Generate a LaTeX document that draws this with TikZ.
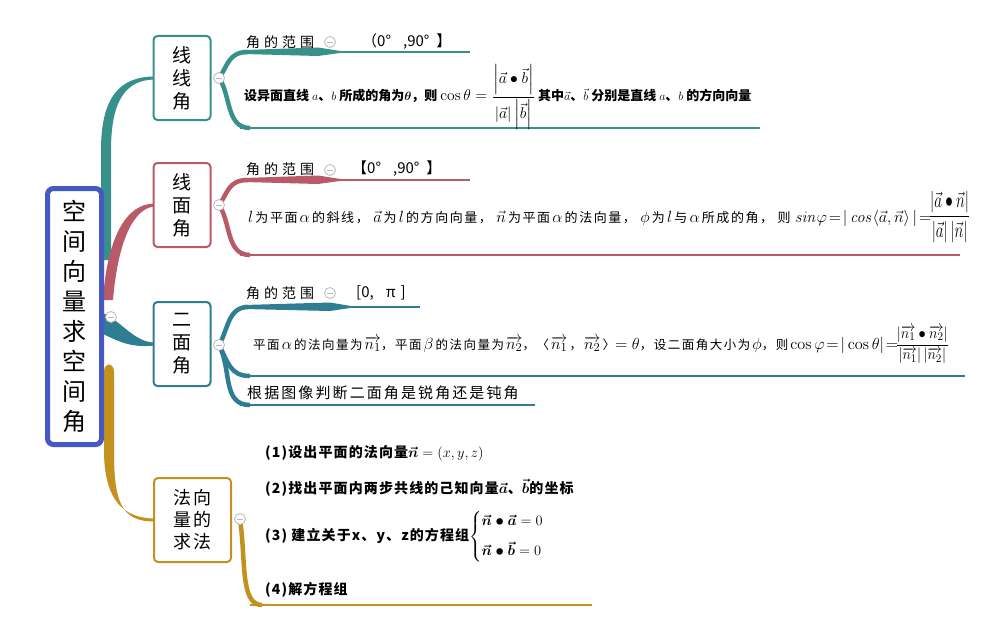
\documentclass[tikz,border=0pt]{standalone}
\usepackage{amsmath,amssymb}
\usepackage[no-math]{fontspec}
\setmainfont{Noto Sans CJK SC}
\usetikzlibrary{calc}
\pgfdeclarelayer{bg}
\pgfsetlayers{bg,main}
\definecolor{cteal}{HTML}{37918A}
\definecolor{cred}{HTML}{B85A68}
\definecolor{cblue}{HTML}{2E7D92}
\definecolor{cgold}{HTML}{C3911E}
\definecolor{ccen}{HTML}{4658C4}
\definecolor{cfold}{HTML}{B8B8B8}
\newcommand\mbig[1]{\scalebox{1.35}{#1}}
\begin{document}
\begin{tikzpicture}[x=1pt,y=-1pt,
  box/.style={draw, line width=2pt, rounded corners=4pt, fill=white, minimum width=57pt, minimum height=84pt, inner sep=0pt, align=center, font=\fontsize{19}{23}\selectfont},
  fold/.style={circle, draw=cfold, line width=0.8pt, fill=white, minimum size=11pt, inner sep=0pt,
     path picture={\draw[cfold, line width=0.9pt] ([xshift=-3pt]path picture bounding box.center) -- ([xshift=3pt]path picture bounding box.center);}},
  hdr/.style={anchor=west, inner sep=0pt, font=\fontsize{14}{16}\selectfont},
  rng/.style={anchor=west, inner sep=0pt, font=\fontsize{15}{17}\selectfont},
  txt/.style={anchor=west, inner sep=0pt},
  uline/.style={line width=2.5pt},
  sub/.style={line width=4.5pt}
]
\useasboundingbox (0,0) rectangle (1008,634);

% central node
\node[draw=ccen, line width=5pt, rounded corners=6pt, fill=white, minimum width=54pt, minimum height=256pt, inner sep=0pt, align=center, font=\fontsize{24}{30}\selectfont] (c) at (74.5,316.5) {空\\间\\向\\量\\求\\空\\间\\角};

% boxes
\node[box, draw=cteal] (b1) at (182,78) {线\\线\\角};
\node[box, draw=cred] (b2) at (182,205) {线\\面\\角};
\node[box, draw=cblue] (b3) at (182,344) {二\\面\\角};
\node[box, draw=cgold, minimum width=77pt, font=\fontsize{18}{22}\selectfont] (b4) at (192.5,520) {法\,向\\量\,的\\求\,法};

% main branches
\begin{pgfonlayer}{bg}
\fill[cteal] (101,260) -- (101,150) .. controls (101,97) and (120,76.5) .. ($(b1.west)+(2,-1.5)$) -- ($(b1.west)+(2,1.5)$) .. controls (126,80) and (111,100) .. (111,150) -- (111,260) -- cycle;
\fill[cred] (103,300) .. controls (107,238) and (126,203.5) .. ($(b2.west)+(2,-1.5)$) -- ($(b2.west)+(2,1.5)$) .. controls (134,208) and (118,240) .. (113,300) -- cycle;
\fill[cblue] (103,313) .. controls (122,322) and (135,342.5) .. ($(b3.west)+(2,-1.5)$) -- ($(b3.west)+(2,1.5)$) .. controls (130,348) and (118,341) .. (103,334) -- cycle;
\fill[cgold] (104,372) -- (104,450) .. controls (104,502) and (125,518.5) .. ($(b4.west)+(2,-1.5)$) -- ($(b4.west)+(2,1.5)$) .. controls (120,522) and (114,500) .. (114,450) -- (114,372) .. controls (114,362) and (104,362) .. cycle;
\end{pgfonlayer}

% fold circles
\node[fold] (f0) at (111,317) {};
\node[fold] (f1) at (219,78) {};
\node[fold] (f2) at (219,205) {};
\node[fold] (f3) at (219,345) {};
\node[fold] (f4) at (240,519) {};

% line end coordinates
\coordinate (e1a) at (470,52);  \coordinate (e1b) at (760,128);
\coordinate (e2a) at (470,180); \coordinate (e2b) at (960,255);
\coordinate (e3a) at (420,307); \coordinate (e3b) at (965,376); \coordinate (e3c) at (535,405);
\coordinate (e4a) at (592,605);

\begin{pgfonlayer}{bg}
% branch 1
\draw[cteal, sub] (f1.center) .. controls (228,66) and (228,52) .. (248,52);
\fill[cteal] (244,50) -- (318,47.5) -- (347,52) -- (318,56) -- (244,54) -- cycle;
\draw[cteal, uline] (240,52) -- (e1a);
\draw[cteal, sub] (f1.center) .. controls (231,95) and (226,128) .. (250,128);
\draw[cteal, uline] (240,128) -- (e1b);
% branch 2
\draw[cred, sub] (f2.center) .. controls (228,193) and (228,180) .. (248,180);
\fill[cred] (244,178) -- (318,175.5) -- (347,180) -- (318,184) -- (244,182) -- cycle;
\draw[cred, uline] (240,180) -- (e2a);
\draw[cred, sub] (f2.center) .. controls (231,222) and (226,255) .. (250,255);
\draw[cred, uline] (240,255) -- (e2b);
% branch 3
\draw[cblue, sub] (f3.center) .. controls (228,330) and (228,307) .. (248,307);
\fill[cblue] (244,305) -- (330,302.5) -- (357,307) -- (330,311) -- (244,309) -- cycle;
\draw[cblue, uline] (240,307) -- (e3a);
\draw[cblue, sub] (f3.center) .. controls (228,362) and (230,376) .. (250,376);
\draw[cblue, uline] (240,376) -- (e3b);
\draw[cblue, sub] (f3.center) .. controls (232,370) and (222,405) .. (250,405);
\draw[cblue, uline] (240,405) -- (e3c);
% branch 4
\draw[cgold, sub] (f4.center) .. controls (246,560) and (240,605) .. (262,605);
\draw[cgold, uline] (250,605) -- (e4a);
\end{pgfonlayer}

% headers
\node[hdr] (h1) at (246,42) {角\hspace{4pt}的\hspace{4pt}范\hspace{4pt}围};
\node[fold] (g1) at (330,42) {};
\node[rng] (r1) at (362,42) {（0°\hspace{12pt},90°\hspace{7pt}】};
\node[hdr] (h2) at (246,169) {角\hspace{4pt}的\hspace{4pt}范\hspace{4pt}围};
\node[fold] (g2) at (330,170) {};
\node[rng] (r2) at (352,169) {【0°\hspace{12pt},90°\hspace{7pt}】};
\node[hdr] (h3) at (246,293) {角\hspace{4pt}的\hspace{4pt}范\hspace{4pt}围};
\node[fold] (g3) at (330,293) {};
\node[rng] (r3) at (356,293) {[0,\hspace{12pt}π\hspace{5pt}]};

% text 1
\node[txt, font=\fontsize{13}{15}\selectfont\bfseries] (t1) at (244,97) {设异面直线 $a$、$b$ 所成的角为$\boldsymbol{\theta}$，则 \scalebox{1.3}{$\cos\theta=\dfrac{\left|\vec a\bullet\vec b\right|}{\left|\vec a\right|\left|\vec b\right|}$}\ 其中$\vec a$、$\vec b$ 分别是直线 $a$、$b$ 的方向向量};

% text 2
\node[txt, font=\fontsize{13}{15}\selectfont\addfontfeature{LetterSpace=12}] (t2) at (248,217) {\mbig{$l$}\,为平面\,\mbig{$\alpha$}\,的斜线，\ \mbig{$\vec a$}\,为\,\mbig{$l$}\,的方向向量，\ \mbig{$\vec n$}\,为平面\,\mbig{$\alpha$}\,的法向量，\ \mbig{$\phi$}\,为\,\mbig{$l$}\,与\,\mbig{$\alpha$}\,所成的角，\ 则\ \mbig{$\mathit{sin}\varphi\!=\!|\,\mathit{cos}\langle\vec a,\vec n\rangle\,|\!=\!$}\scalebox{1.25}[1.8]{$\dfrac{\left|\vec a\bullet\vec n\right|}{\left|\vec a\right|\left|\vec n\right|}$}};

% text 3
\node[txt, font=\fontsize{12.5}{15}\selectfont\addfontfeature{LetterSpace=12}] (t3) at (253,345) {平面\,\mbig{$\alpha$}\,的法向量为\,\mbig{$\overrightarrow{n_1}$}，平面\,\mbig{$\beta$}\,的法向量为\,\mbig{$\overrightarrow{n_2}$}，〈\,\mbig{$\overrightarrow{n_1}$}\,，\,\mbig{$\overrightarrow{n_2}$}\,〉\mbig{$=\theta$}，设二面角大小为\,\mbig{$\phi$}，则\,\mbig{$\cos\varphi\!=\!|\cos\theta|\!=\!$}\scalebox{1.2}[1.3]{$\dfrac{|\overrightarrow{n_1}\bullet\overrightarrow{n_2}|}{|\overrightarrow{n_1}|\,|\overrightarrow{n_2}|}$}};

% text 4
\node[txt, font=\fontsize{15}{17}\selectfont\addfontfeature{LetterSpace=14}] (t4) at (247,393) {根据图像判断二面角是锐角还是钝角};

% normal vector method
\node[txt, font=\fontsize{14}{16}\selectfont\bfseries\addfontfeature{LetterSpace=8}] (s1) at (265,453) {(1)设出平面的法向量$\boldsymbol{\vec n}=(x,y,z)$};
\node[txt, font=\fontsize{14}{16}\selectfont\bfseries\addfontfeature{LetterSpace=8}] (s2) at (265,488) {(2)找出平面内两步共线的己知向量$\boldsymbol{\vec a}$、$\boldsymbol{\vec b}$的坐标};
\node[txt, font=\fontsize{14}{16}\selectfont\bfseries\addfontfeature{LetterSpace=8}] (s3) at (265,537) {(3)\ 建立关于x、y、z的方程组$\begin{cases}\boldsymbol{\vec n\bullet\vec a}=0\\[10pt]\boldsymbol{\vec n\bullet\vec b}=0\end{cases}$};
\node[txt, font=\fontsize{14}{16}\selectfont\bfseries\addfontfeature{LetterSpace=8}] (s4) at (265,590) {(4)解方程组};

\end{tikzpicture}
\end{document}
